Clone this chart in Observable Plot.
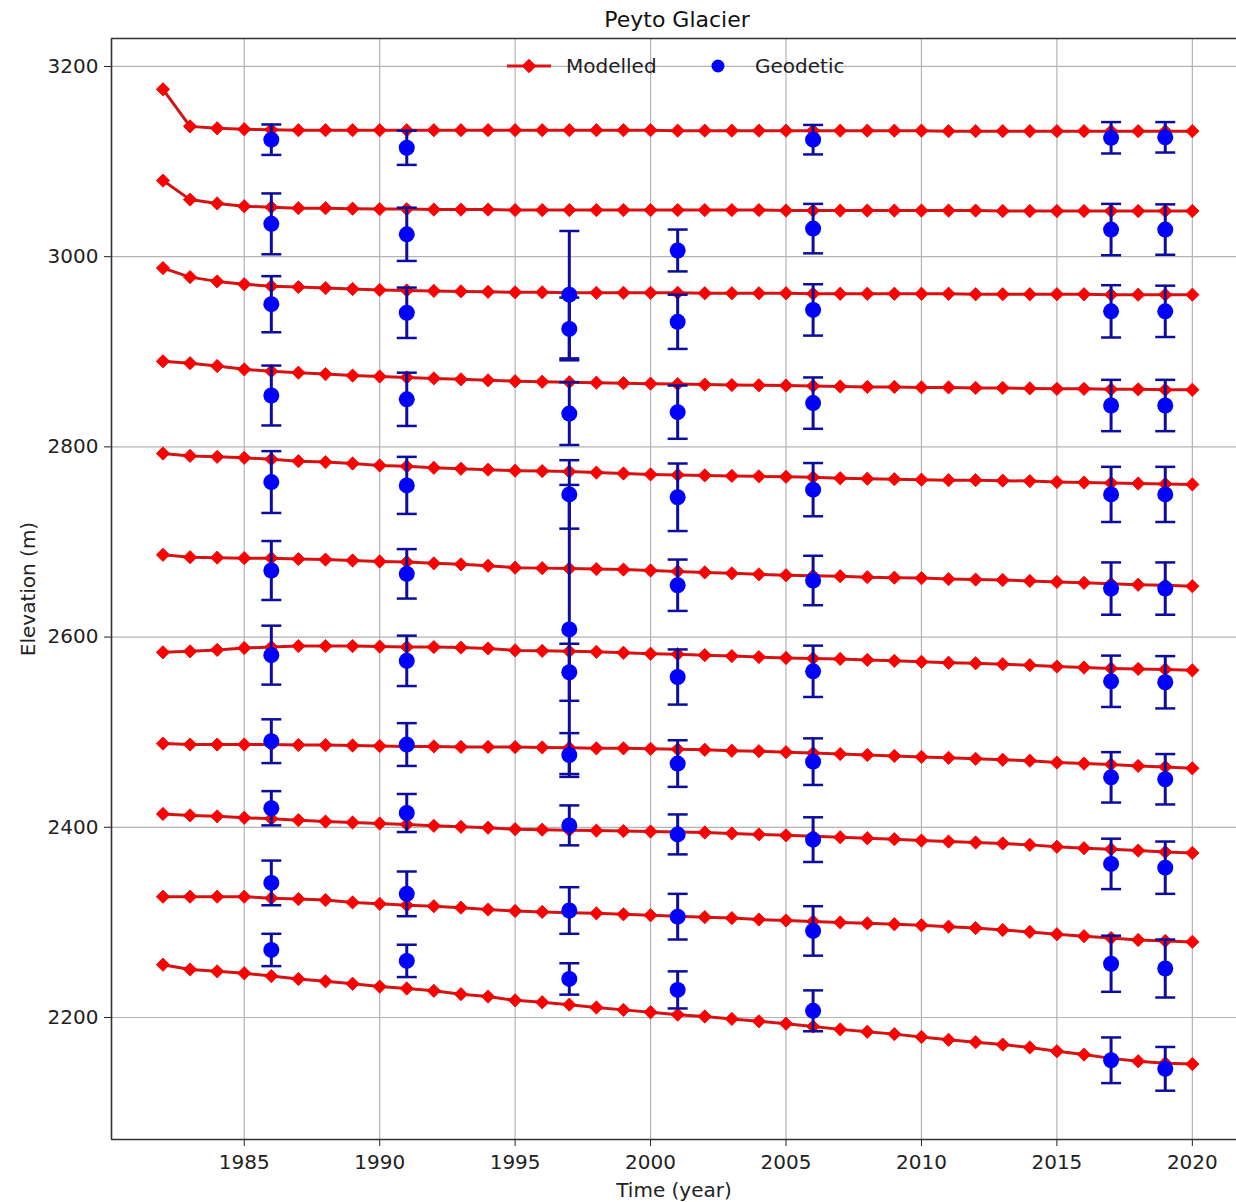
<!DOCTYPE html>
<html>
<head>
<meta charset="utf-8">
<script src="https://cdn.jsdelivr.net/npm/d3@7"></script>
<script src="https://cdn.jsdelivr.net/npm/@observablehq/plot@0.6"></script>
<style>
  body { margin: 0; background: #fff; font-family: "DejaVu Sans", sans-serif; color: #222; }
  #wrap { position: relative; width: 1236px; height: 1202px; overflow: hidden; }
  #title { position: absolute; left: 111px; width: 1132px; top: 0; height: 36px; line-height: 40px; text-align: center; font-size: 22px; color: #111; }
  #chart { position: absolute; left: 0; top: 36px; }
  #legend { position: absolute; left: 0; top: 0; pointer-events: none; }
</style>
</head>
<body>
<div id="wrap">
  <div id="title">Peyto Glacier</div>
  <div id="chart"></div>
  <svg id="legend" width="1236" height="100" font-family="DejaVu Sans" font-size="20">
    <line x1="507" x2="551" y1="66" y2="66" stroke="#d81414" stroke-width="3"></line>
    <path d="M529,59.3L535.7,66L529,72.7L522.3,66Z" fill="#ff0000" stroke="#e00000"></path>
    <text x="566" y="66" dominant-baseline="central" fill="#222">Modelled</text>
    <circle cx="718" cy="66" r="6.5" fill="#0000ff"></circle>
    <text x="755" y="66" dominant-baseline="central" fill="#222">Geodetic</text>
  </svg>
</div>
<script>
// ---------- data ----------
const years = [1982,1983,1984,1985,1986,1987,1988,1989,1990,1991,
               1992,1993,1994,1995,1996,1997,1998,1999,2000,2001,
               2002,2003,2004,2005,2006,2007,2008,2009,2010,2011,
               2012,2013,2014,2015,2016,2017,2018,2019,2020];

const band1 = [3176,3137,3135,3134,3133.5,3133,3133,3133,3133,3133,
               3133,3133,3133,3133,3133,3133,3133,3133,3133,3132.5,
               3132.5,3132.5,3132.5,3132.5,3132.5,3132.5,3132.5,3132.5,3132.5,3132,
               3132,3132,3132,3132,3132,3132,3132,3132,3132];
const band2 = [3080,3060,3056,3053,3052,3051,3051,3050.5,3050,3050,
               3049.5,3049.5,3049.5,3049,3049,3049,3049,3049,3049,3049,
               3049,3049,3049,3048.5,3048.5,3048.5,3048.5,3048.5,3048.5,3048.5,
               3048.5,3048,3048,3048,3048,3048,3048,3048,3048];
const band3 = [2988,2978.5,2974,2971,2969,2968,2967,2966,2965,2964.5,
               2964,2963.5,2963,2962.5,2962.5,2962,2962,2962,2962,2962,
               2961.5,2961.5,2961.5,2961.5,2961,2961,2961,2961,2961,2961,
               2960.5,2960.5,2960.5,2960.5,2960.5,2960,2960,2960,2960];
const band4 = [2890,2888,2885,2881.5,2879.5,2878,2876.5,2875,2874,2873,
               2872,2871,2870,2869,2868.5,2868,2867.5,2867,2866.5,2866,
               2865.5,2865,2864.8,2864.5,2864,2863.5,2863,2863,2862.5,2862.5,
               2862,2862,2861.5,2861,2861,2860.5,2860.5,2860,2860];
const band5 = [2793,2790.5,2789.5,2788.5,2787,2785,2784,2782.5,2780.5,2779.5,
               2778,2777,2776,2775,2774.5,2774,2773,2772,2771,2770.5,
               2770,2769.5,2769,2768.5,2768,2767,2766.5,2766,2765.5,2765,
               2765,2764.5,2764,2763,2762.5,2762,2761.5,2761,2760.5];
const band6 = [2686.5,2684,2683.5,2683,2683,2682,2681.5,2680.5,2679.5,2679,
               2677.5,2676.5,2675,2673,2672.5,2672,2671.5,2671,2670,2669,
               2668,2667,2666,2665,2664.5,2664,2663,2662.5,2662,2661,
               2660.5,2660,2659,2658,2657,2656,2655,2654.5,2653.5];
const band7 = [2584,2585,2586.5,2588.5,2589.5,2590.5,2590.5,2590.5,2590,2589.5,
               2589.5,2589,2588,2586,2585.5,2585,2584.5,2583.5,2582.5,2582,
               2581,2580,2579,2578,2577.5,2577,2576,2575,2574,2573,
               2572.5,2571.5,2570.5,2569,2568,2567,2566.5,2566,2565];
const band8 = [2488,2487,2487,2487,2487,2486.5,2486.5,2486,2485.5,2485,
               2485,2484.5,2484.5,2484.3,2484,2483.5,2483,2483,2482.5,2482,
               2481.5,2480.5,2480,2479,2478,2477,2476,2475,2474,2473,
               2472,2471,2470,2468,2467,2466,2464.5,2463.5,2462];
const band9 = [2414,2412.5,2411.5,2410,2409,2407.5,2406,2405,2404,2403,
               2401.5,2400.5,2399.5,2398,2397.5,2397,2396.5,2396,2395.5,2395,
               2394.5,2393.5,2392.5,2391.5,2390.5,2389.5,2388.5,2387.5,2386,2385,
               2384,2383,2381.5,2379.5,2378,2377,2375.5,2374,2373];
const band10 = [2327,2327,2327,2327,2325.5,2324.5,2323.5,2321,2319.5,2318,
                2317,2315.5,2313.5,2312,2311,2310,2309.5,2308.5,2307.5,2306.5,
                2305.5,2304.5,2303,2302,2301,2300,2299,2298,2297,2295.5,
                2294,2292,2290,2287.5,2285.5,2283.5,2281.5,2280.5,2279.5];
const band11 = [2255.5,2250.5,2248.5,2246.5,2243.5,2240.5,2238,2235.5,2232.5,2230.5,
                2228,2224.5,2222,2218,2216,2213.5,2210.5,2208,2205.5,2203,
                2201,2198.5,2196,2193.5,2190.5,2187.5,2185,2182.5,2179.5,2176.5,
                2174,2171.5,2168.5,2164.5,2161,2157,2154,2152,2151];

// Geodetic observations (year, elevation, error)
const geoYear = [
  1986,1991,2006,2017,2019,
  1986,1991,2001,2006,2017,2019,
  1986,1991,1997,1997,2001,2006,2017,2019,
  1986,1991,1997,2001,2006,2017,2019,
  1986,1991,1997,2001,2006,2017,2019,
  1986,1991,1997,2001,2006,2017,2019,
  1986,1991,1997,2001,2006,2017,2019,
  1986,1991,1997,2001,2006,2017,2019,
  1986,1991,1997,2001,2006,2017,2019,
  1986,1991,1997,2001,2006,2017,2019,
  1986,1991,1997,2001,2006,2017,2019
];
const geoElev = [
  3123,3114.5,3123,3125,3125.5,
  3034.5,3023.5,3006.5,3029.5,3028.5,3028.5,
  2950,2941,2960,2924,2931.5,2944,2942.5,2942.5,
  2854,2850,2835,2836.5,2846,2843.5,2843.5,
  2763,2759.5,2750,2747,2755,2750,2750,
  2670,2666.5,2608,2654.5,2659.5,2651,2651,
  2581,2575,2563,2558,2564,2553.5,2552.5,
  2490.5,2487,2476,2467,2469,2452.5,2450.5,
  2420,2415,2402,2392.5,2387,2361.5,2357.5,
  2341.5,2330,2312.5,2306,2291,2256.5,2251.5,
  2271,2259.5,2240.5,2229,2207,2155,2146
];
const geoErr = [
  16,18,15.5,16.5,16,
  32,28,22,26,27,26.5,
  29.5,26.5,67,33,28.5,27,27.5,27,
  31.5,28,33,28,27,27,27,
  32.5,30,36,35.5,28,29,29,
  31,26,152,27,26,27.5,27.5,
  31,26.5,30,29,27,27,27.5,
  23,22.5,23,24.5,24.5,26.5,26.5,
  18,20,21,21,23.5,26.5,27.5,
  23.5,23.5,24.5,24,26,29.5,30.5,
  17,17,16.5,19.5,21.5,24,23
];

const xTicks = [1985,1990,1995,2000,2005,2010,2015,2020];
const yTicks = [2200,2400,2600,2800,3000,3200];
const xDomain = [1980.1, 2021.63];
const yDomain = [2071.7, 3229.4];

// ---------- tables ----------
const bands = [band1,band2,band3,band4,band5,band6,band7,band8,band9,band10,band11];
const modelled = bands.flatMap((vals, b) => vals.map((v, i) => ({band: b, year: years[i], elev: v})));
const geodetic = geoYear.map((y, i) => ({year: y, elev: geoElev[i], err: geoErr[i]}));

const capSymbol = {
  draw(ctx, size) {
    const w = Math.sqrt(size / Math.PI);
    ctx.moveTo(-w, 0);
    ctx.lineTo(w, 0);
  }
};

const RED_LINE = "#d41414";
const RED = "#ff0000";
const BLUE = "#0000ff";
const BAR = "#0c0c9e";
const GRID = "#b3b3b3";
const SPINE = "#333";

const chart = Plot.plot({
  width: 1236,
  height: 1166,
  marginTop: 2,
  marginBottom: 63,
  marginLeft: 111,
  marginRight: 0,
  style: {fontFamily: "DejaVu Sans", fontSize: "20px", color: "#222", background: "transparent"},
  x: {domain: xDomain, ticks: xTicks, tickFormat: d3.format("d"), tickSize: 7, tickPadding: 8, label: null},
  y: {domain: yDomain, ticks: yTicks, tickFormat: d3.format("d"), tickSize: 7, tickPadding: 6, label: null},
  marks: [
    Plot.ruleX(xTicks, {stroke: GRID, strokeWidth: 1.2}),
    Plot.ruleY(yTicks, {stroke: GRID, strokeWidth: 1.2}),
    Plot.ruleX([xDomain[0]], {stroke: SPINE, strokeWidth: 1.6}),
    Plot.ruleY(yDomain, {stroke: SPINE, strokeWidth: 1.6}),
    Plot.line(modelled, {x: "year", y: "elev", z: "band", stroke: RED_LINE, strokeWidth: 3}),
    Plot.dot(modelled, {x: "year", y: "elev", symbol: "diamond2", r: 6, fill: RED, stroke: "#e40000", strokeWidth: 0.8}),
    Plot.ruleX(geodetic, {x: "year", y1: d => d.elev - d.err, y2: d => d.elev + d.err, stroke: BAR, strokeWidth: 3}),
    Plot.dot(geodetic, {x: "year", y: d => d.elev + d.err, symbol: capSymbol, r: 10, stroke: BAR, strokeWidth: 2.5, fill: "none"}),
    Plot.dot(geodetic, {x: "year", y: d => d.elev - d.err, symbol: capSymbol, r: 10, stroke: BAR, strokeWidth: 2.5, fill: "none"}),
    Plot.dot(geodetic, {x: "year", y: "elev", r: 8, fill: BLUE, stroke: "none"}),
    Plot.text(["Time (year)"], {frameAnchor: "bottom", dy: 51, lineAnchor: "middle", fontSize: 20, fill: "#222"}),
    Plot.text(["Elevation (m)"], {frameAnchor: "left", dx: -83, rotate: -90, lineAnchor: "middle", textAnchor: "middle", fontSize: 20, fill: "#222"})
  ]
});
document.getElementById("chart").appendChild(chart);
</script>
</body>
</html>
